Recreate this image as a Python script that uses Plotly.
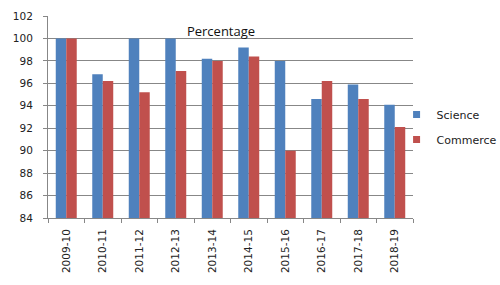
import plotly.graph_objects as go

years = ["2009-10", "2010-11", "2011-12", "2012-13", "2013-14",
         "2014-15", "2015-16", "2016-17", "2017-18", "2018-19"]
science = [100.0, 96.8, 100.0, 100.0, 98.2, 99.2, 98.0, 94.6, 95.9, 94.1]
commerce = [100.0, 96.2, 95.2, 97.1, 98.0, 98.4, 90.0, 96.2, 94.6, 92.1]
series_names = ["Science", "Commerce"]
colors = ["#4F81BD", "#C0504D"]

fig = go.Figure()
for name, vals, col in zip(series_names, [science, commerce], colors):
    fig.add_trace(go.Bar(x=years, y=vals, name=name, marker_color=col,
                         marker_line_width=0, showlegend=False))
# legend entries with small square markers
for i, (name, col) in enumerate(zip(series_names, colors)):
    fig.add_trace(go.Scatter(x=[None], y=[None], mode="markers", name=name,
                             legendgroup=f"g{i}",
                             marker=dict(symbol="square", size=7, color=col)))

fig.update_layout(
    width=500, height=285,
    margin=dict(l=48, r=87, t=16, b=67, autoexpand=False),
    paper_bgcolor="white", plot_bgcolor="white",
    barmode="group", bargap=0.425, bargroupgap=0,
    font=dict(family="DejaVu Sans", size=10.5, color="#222222"),
    title=dict(text="Percentage", x=0.442, xref="container", xanchor="center",
               y=1 - 31.5 / 285, yref="container", yanchor="middle",
               font=dict(family="Open Sans", size=13, color="#111111")),
    legend=dict(x=0.955, xanchor="left", y=0.45, yanchor="middle",
                font=dict(family="DejaVu Sans", size=11, color="#222222"),
                tracegroupgap=6, itemwidth=30, bgcolor="rgba(0,0,0,0)"),
)
fig.update_xaxes(type="category", showline=True, linecolor="#878787", linewidth=1,
                 ticks="outside", tickson="boundaries", ticklen=4, tickcolor="#878787",
                 tickangle=-90, showgrid=False, ticklabelstandoff=6)
fig.update_yaxes(range=[84, 102], dtick=2, showgrid=True, gridcolor="#878787",
                 gridwidth=1, showline=True, linecolor="#878787", linewidth=1,
                 ticks="outside", ticklen=4, tickcolor="#878787",
                 zeroline=False, ticklabelstandoff=8)

fig.write_html("out.html")
